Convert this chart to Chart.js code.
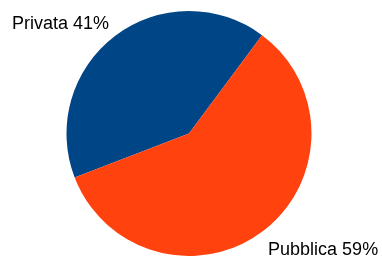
<!DOCTYPE html>
<html>
<head>
<meta charset="utf-8">
<script src="https://cdn.jsdelivr.net/npm/chart.js@4/dist/chart.umd.min.js"></script>
<style>
  html, body { margin: 0; padding: 0; background: #fff; }
  #wrap { width: 382px; height: 256px; }
</style>
</head>
<body>
<div id="wrap"><canvas id="pieChart"></canvas></div>
<script>
const categories = ['Privata', 'Pubblica'];
const shares = [41, 59];
const colors = ['#004586', '#ff420e'];

// label nudges relative to the arc edge at each slice's middle angle
const labelNudge = [[-6, -7], [5, 24]];

const sliceLabels = {
  id: 'sliceLabels',
  afterDatasetsDraw(chart) {
    const ctx = chart.ctx;
    const meta = chart.getDatasetMeta(0);
    ctx.save();
    ctx.font = '18px "Liberation Sans", Arial, sans-serif';
    ctx.fillStyle = '#000';
    ctx.textBaseline = 'alphabetic';
    meta.data.forEach((arc, i) => {
      const p = arc.getProps(['x', 'y', 'startAngle', 'endAngle', 'outerRadius'], true);
      const mid = (p.startAngle + p.endAngle) / 2;
      const ex = p.x + Math.cos(mid) * p.outerRadius;
      const ey = p.y + Math.sin(mid) * p.outerRadius;
      ctx.textAlign = Math.cos(mid) < 0 ? 'right' : 'left';
      ctx.fillText(categories[i] + ' ' + shares[i] + '%', ex + labelNudge[i][0], ey + labelNudge[i][1]);
    });
    ctx.restore();
  }
};

new Chart(document.getElementById('pieChart').getContext('2d'), {
  type: 'pie',
  data: {
    labels: categories,
    datasets: [{
      data: shares,
      backgroundColor: colors,
      borderWidth: 0
    }]
  },
  options: {
    responsive: true,
    maintainAspectRatio: false,
    animation: false,
    rotation: 249,
    layout: { padding: { top: 11, bottom: 0, left: 0, right: 4 } },
    plugins: {
      legend: { display: false },
      tooltip: { enabled: false }
    }
  },
  plugins: [sliceLabels]
});
</script>
</body>
</html>
